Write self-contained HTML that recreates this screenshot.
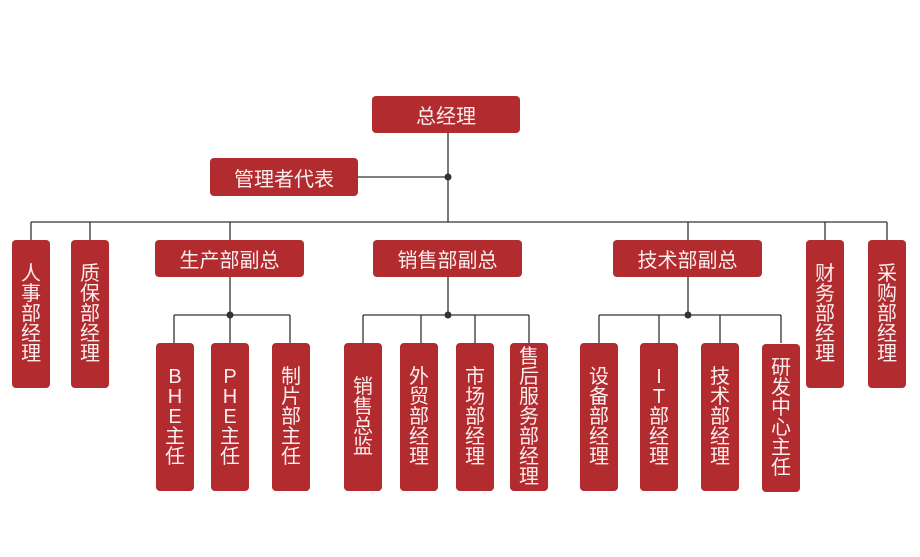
<!DOCTYPE html>
<html><head><meta charset="utf-8"><style>
body{margin:0;width:920px;height:557px;background:#fff;position:relative;overflow:hidden;font-family:"Liberation Sans","Noto Sans CJK SC",sans-serif}
.b{position:absolute;background:#b12b2f;border-radius:4px;color:#fbeeee;display:flex;align-items:center;justify-content:center;font-size:20px;box-sizing:border-box}
.v{flex-direction:column;line-height:20px;text-align:center}
.v span{display:block}
svg{position:absolute;left:0;top:0}
</style></head><body>
<svg width="920" height="557">
<g stroke="#333" stroke-width="1.3" fill="none">
<line x1="448" y1="133" x2="448" y2="222"/>
<line x1="358" y1="177" x2="448" y2="177"/>
<line x1="31" y1="222" x2="887" y2="222"/>
<line x1="31" y1="222" x2="31" y2="240"/>
<line x1="90" y1="222" x2="90" y2="240"/>
<line x1="230" y1="222" x2="230" y2="240"/>
<line x1="688" y1="222" x2="688" y2="240"/>
<line x1="825" y1="222" x2="825" y2="240"/>
<line x1="887" y1="222" x2="887" y2="240"/>
<line x1="230" y1="277" x2="230" y2="315"/>
<line x1="174" y1="315" x2="290" y2="315"/>
<line x1="174" y1="315" x2="174" y2="343"/><line x1="230" y1="315" x2="230" y2="343"/><line x1="290" y1="315" x2="290" y2="343"/>
<line x1="448" y1="277" x2="448" y2="315"/>
<line x1="363" y1="315" x2="529" y2="315"/>
<line x1="363" y1="315" x2="363" y2="343"/><line x1="421" y1="315" x2="421" y2="343"/><line x1="475" y1="315" x2="475" y2="343"/><line x1="529" y1="315" x2="529" y2="343"/>
<line x1="688" y1="277" x2="688" y2="315"/>
<line x1="599" y1="315" x2="781" y2="315"/>
<line x1="599" y1="315" x2="599" y2="343"/><line x1="659" y1="315" x2="659" y2="343"/><line x1="720" y1="315" x2="720" y2="343"/><line x1="781" y1="315" x2="781" y2="343"/>
</g>
<g fill="#333"><circle cx="448" cy="177" r="3.5"/><circle cx="230" cy="315" r="3.5"/><circle cx="448" cy="315" r="3.5"/><circle cx="688" cy="315" r="3.5"/></g>
</svg>
<div class="b" style="left:372px;top:96px;width:148px;height:37px">总经理</div>
<div class="b" style="left:210px;top:158px;width:148px;height:38px">管理者代表</div>
<div class="b" style="left:155px;top:240px;width:149px;height:37px">生产部副总</div>
<div class="b" style="left:373px;top:240px;width:149px;height:37px">销售部副总</div>
<div class="b" style="left:613px;top:240px;width:149px;height:37px">技术部副总</div>
<div class="b v" style="left:12px;top:240px;width:38px;height:148px"><span>人</span><span>事</span><span>部</span><span>经</span><span>理</span></div>
<div class="b v" style="left:71px;top:240px;width:38px;height:148px"><span>质</span><span>保</span><span>部</span><span>经</span><span>理</span></div>
<div class="b v" style="left:806px;top:240px;width:38px;height:148px"><span>财</span><span>务</span><span>部</span><span>经</span><span>理</span></div>
<div class="b v" style="left:868px;top:240px;width:38px;height:148px"><span>采</span><span>购</span><span>部</span><span>经</span><span>理</span></div>
<div class="b v" style="left:156px;top:343px;width:38px;height:148px"><span>B</span><span>H</span><span>E</span><span>主</span><span>任</span></div>
<div class="b v" style="left:211px;top:343px;width:38px;height:148px"><span>P</span><span>H</span><span>E</span><span>主</span><span>任</span></div>
<div class="b v" style="left:272px;top:343px;width:38px;height:148px"><span>制</span><span>片</span><span>部</span><span>主</span><span>任</span></div>
<div class="b v" style="left:344px;top:343px;width:38px;height:148px"><span>销</span><span>售</span><span>总</span><span>监</span></div>
<div class="b v" style="left:400px;top:343px;width:38px;height:148px"><span>外</span><span>贸</span><span>部</span><span>经</span><span>理</span></div>
<div class="b v" style="left:456px;top:343px;width:38px;height:148px"><span>市</span><span>场</span><span>部</span><span>经</span><span>理</span></div>
<div class="b v" style="left:510px;top:343px;width:38px;height:148px"><span>售</span><span>后</span><span>服</span><span>务</span><span>部</span><span>经</span><span>理</span></div>
<div class="b v" style="left:580px;top:343px;width:38px;height:148px"><span>设</span><span>备</span><span>部</span><span>经</span><span>理</span></div>
<div class="b v" style="left:640px;top:343px;width:38px;height:148px"><span>I</span><span>T</span><span>部</span><span>经</span><span>理</span></div>
<div class="b v" style="left:701px;top:343px;width:38px;height:148px"><span>技</span><span>术</span><span>部</span><span>经</span><span>理</span></div>
<div class="b v" style="left:762px;top:344px;width:38px;height:148px"><span>研</span><span>发</span><span>中</span><span>心</span><span>主</span><span>任</span></div>
</body></html>
